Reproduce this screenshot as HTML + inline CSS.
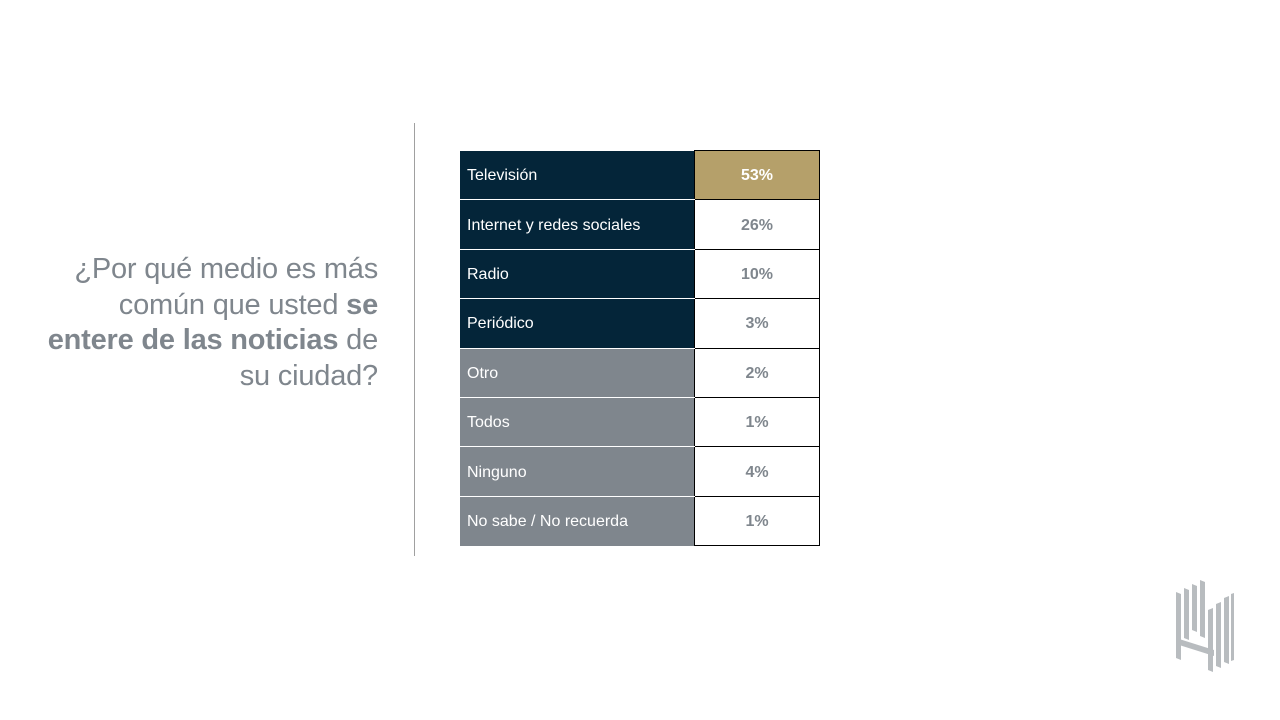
<!DOCTYPE html>
<html><head><meta charset="utf-8"><style>
body{margin:0;width:1280px;height:720px;background:#fff;position:relative;overflow:hidden;font-family:"Liberation Sans Narrow","Liberation Sans",sans-serif;}
.q{position:absolute;right:902px;top:252px;text-align:right;color:#7f868d;font-size:29px;line-height:35.5px;letter-spacing:-0.2px;white-space:nowrap}
.vl{position:absolute;left:414px;top:123px;width:1px;height:433px;background:#a0a0a0}
table{position:absolute;left:460px;top:150px;border-collapse:collapse}
td{height:46.4px;padding:2px 0 0 0;font-size:16px}
td.l{width:227px;padding-left:7px;color:#fff;border-bottom:1px solid #fff}
td.r{width:124px;text-align:center;font-weight:bold;color:#7f868d;border:1px solid #000}
.n{background:#042539}.g{background:#7f868d}
</style></head><body>
<div class="q">¿Por qué medio es más<br>común que usted <b>se</b><br><b>entere de las noticias</b> de<br>su ciudad?</div>
<div class="vl"></div>
<table>
<tr><td class="l n">Televisión</td><td class="r" style="background:#b5a06a;color:#fff">53%</td></tr>
<tr><td class="l n">Internet y redes sociales</td><td class="r">26%</td></tr>
<tr><td class="l n">Radio</td><td class="r">10%</td></tr>
<tr><td class="l n">Periódico</td><td class="r">3%</td></tr>
<tr><td class="l g">Otro</td><td class="r">2%</td></tr>
<tr><td class="l g">Todos</td><td class="r">1%</td></tr>
<tr><td class="l g">Ninguno</td><td class="r">4%</td></tr>
<tr><td class="l g" style="border-bottom:none">No sabe / No recuerda</td><td class="r">1%</td></tr>
</table>
<svg style="position:absolute;left:1174px;top:580px" width="62" height="94" viewBox="0 0 62 94">
<g fill="#b8bcbf">
<polygon points="2,12 7,14 7,80 2,78"/>
<polygon points="10,8 15,10 15,60 10,58"/>
<polygon points="18,4 23,6 23,52 18,50"/>
<polygon points="26,0 31,2 31,58 26,56"/>
<polygon points="2,58 40,70 40,76 2,64"/>
<polygon points="34,30 39,28 39,92 34,90"/>
<polygon points="42,24 47,22 47,88 42,86"/>
<polygon points="50,18 55,16 55,84 50,82"/>
<polygon points="57,14 60,13 60,80 57,81"/>
</g></svg>
</body></html>
